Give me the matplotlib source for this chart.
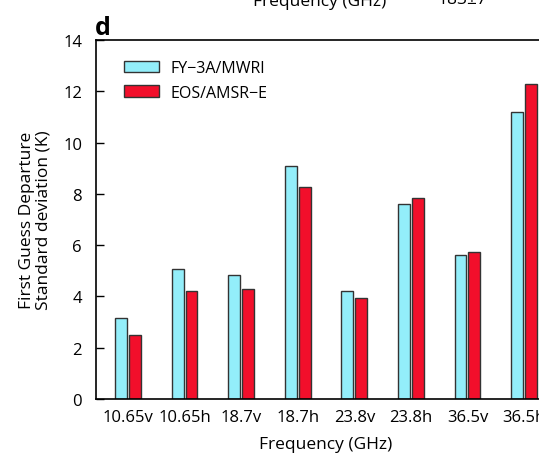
import matplotlib.pyplot as plt
import numpy as np

channels = ['10.65v', '10.65h', '18.7v', '18.7h', '23.8v', '23.8h', '36.5v', '36.5h']
mwri = [3.15, 5.08, 4.85, 9.1, 4.2, 7.6, 5.63, 11.2]
amsre = [2.5, 4.2, 4.3, 8.25, 3.95, 7.83, 5.73, 12.3]

plt.rcParams['font.family'] = ['Open Sans', 'DejaVu Sans']

fig = plt.figure(figsize=(5.39, 4.56), dpi=100)
ax = fig.add_axes([96/539, 56/456, 460/539, 359/456])

x = np.arange(len(channels))
w = 0.21
ax.bar(x - 0.123, mwri, w, color='#93EEFA', edgecolor='#333333', linewidth=1, label='FY\u22123A/MWRI')
ax.bar(x + 0.123, amsre, w, color='#F20F2B', edgecolor='#333333', linewidth=1, label='EOS/AMSR\u2212E')

ax.set_xlim(-0.565, 7.565)
ax.set_ylim(0, 14)
ax.set_yticks(range(0, 15, 2))
ax.set_xticks(x)
ax.set_xticklabels(channels)
ax.tick_params(axis='y', direction='in', length=6, labelsize=12, width=1, pad=10)
ax.tick_params(axis='x', length=0, labelsize=12, pad=7)
for s in ax.spines.values():
    s.set_linewidth(1.2)

ax.set_xlabel('Frequency (GHz)', fontsize=12.5, labelpad=8)
ax.set_ylabel('First Guess Departure\nStandard deviation (K)', fontsize=12.5, labelpad=8,
              linespacing=1.1)

ax.legend(loc='upper left', frameon=False, fontsize=11.5, handlelength=2.2, handleheight=0.7,
          handletextpad=0.7, bbox_to_anchor=(0.03, 0.985), labelspacing=0.55)

fig.text(95/539, 1 - 35/456, 'd', fontsize=18, fontweight='bold', va='baseline')
fig.text(320/539, 1 - 6/456, 'Frequency (GHz)', fontsize=12.5, ha='center', va='baseline')
fig.text(462/539, 1 - 4/456, '183\u00b17', fontsize=12.5, ha='center', va='baseline')

plt.savefig('out.png', dpi=100)
